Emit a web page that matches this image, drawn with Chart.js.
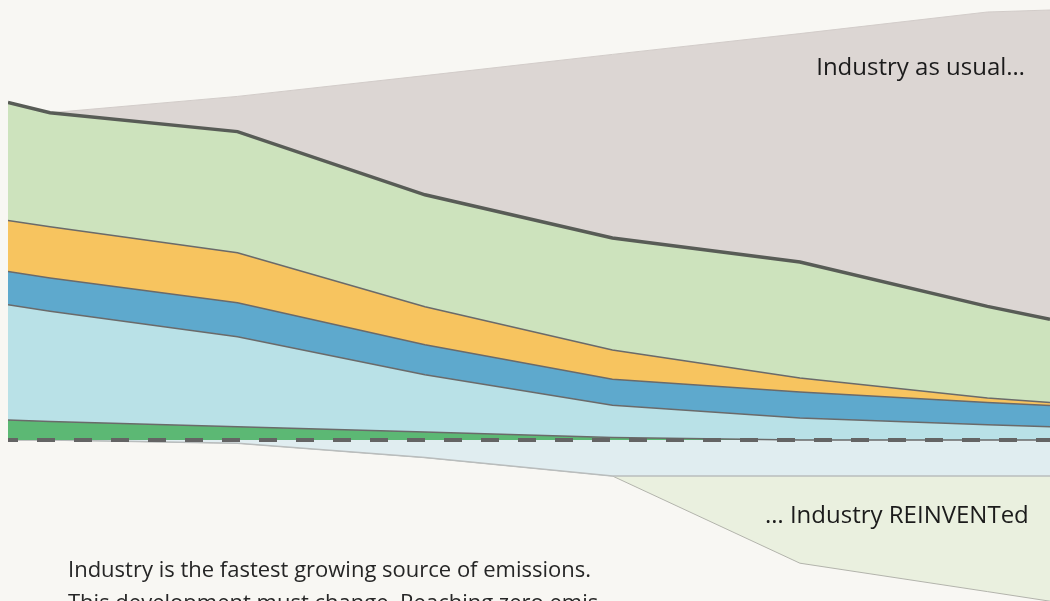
<!DOCTYPE html>
<html>
<head>
<meta charset="utf-8">
<script src="https://cdn.jsdelivr.net/npm/chart.js@4"></script>
<style>
  html, body { margin: 0; padding: 0; background: #f8f7f3; }
  #wrap { position: relative; width: 1050px; height: 601px; overflow: hidden; }
  canvas { position: absolute; left: 0; top: 0; }
  .label { position: absolute; font-family: "Open Sans", "Noto Sans", sans-serif; color: #1b1b1b; white-space: nowrap; }
  #usual { right: 25px; top: 49px; font-size: 24px; }
  #reinvented { left: 765px; top: 497px; font-size: 24px; }
  #note { left: 68px; top: 552px; font-size: 22px; line-height: 33px; color: #262626; }
</style>
</head>
<body>
<div id="wrap">
  <canvas id="chart" width="1050" height="601"></canvas>
  <div class="label" id="usual">Industry as usual…</div>
  <div class="label" id="reinvented">… Industry REINVENTed</div>
  <div class="label" id="note">Industry is the fastest growing source of emissions.<br>This development must change. Reaching zero emis-</div>
</div>
<script>
// === Данные (Gt CO2, оценка по картинке) ===
const years = [2018.88, 2020, 2025, 2030, 2035, 2040, 2045, 2046.67];

// слои над нулём, снизу вверх
const greenBase = [0.50, 0.46, 0.33, 0.20, 0.06, 0, 0, 0];
const lightBlue = [2.88, 2.76, 2.25, 1.43, 0.81, 0.55, 0.38, 0.33];
const blue      = [0.83, 0.83, 0.85, 0.75, 0.65, 0.65, 0.56, 0.53];
const orange    = [1.28, 1.28, 1.25, 0.95, 0.73, 0.35, 0.11, 0.08];
const lightGreen = [2.95, 2.85, 3.03, 2.80, 2.80, 2.90, 2.29, 2.08];
const asUsual   = [0, 0, 0.88, 2.98, 4.59, 5.71, 7.36, 7.73];

// слои под нулём
const belowBand  = [0, 0, -0.08, -0.44, -0.90, -0.90, -0.90, -0.90];
const reinvented = [0, 0, 0, 0, 0, -2.18, -2.89, -3.13];

const baseline = years.map(() => 0);

const pts = arr => arr.map((v, i) => ({ x: years[i], y: v }));

function layer(data, fill, bg, border, width, stack) {
  return {
    data: pts(data),
    fill,
    backgroundColor: bg,
    borderColor: border,
    borderWidth: width,
    stack,
    pointRadius: 0,
    tension: 0
  };
}

const datasets = [
  {
    data: pts(baseline),
    fill: false,
    borderColor: '#646464',
    borderWidth: 4,
    borderDash: [18, 19],
    borderDashOffset: 8,
    borderCapStyle: 'butt',
    stack: 'base',
    pointRadius: 0
  },
  layer(greenBase, 'origin', '#5cb874', '#6a6a6a', 1.5, 'up'),
  layer(lightBlue, '-1', '#b9e1e7', '#6a6a6a', 1.5, 'up'),
  layer(blue, '-1', '#5ea9cd', '#6a6a6a', 1.5, 'up'),
  layer(orange, '-1', '#f7c45f', '#6a6a6a', 1.5, 'up'),
  layer(lightGreen, '-1', '#cde3bd', '#585c56', 3.5, 'up'),
  layer(asUsual, '-1', '#dcd6d3', '#d2ccc9', 1, 'up'),
  layer(belowBand, 'origin', '#e0edf0', '#b9bdbd', 1.5, 'down'),
  layer(reinvented, '-1', '#eaf0df', '#b2b3ab', 1, 'down')
];

new Chart(document.getElementById('chart'), {
  type: 'line',
  data: { datasets },
  options: {
    responsive: false,
    animation: false,
    layout: { padding: { left: 8, right: 0, top: 0, bottom: 0 } },
    plugins: { legend: { display: false }, tooltip: { enabled: false } },
    scales: {
      x: { type: 'linear', min: 2018.88, max: 2046.67, display: false },
      y: { stacked: true, min: -4.025, max: 11, display: false }
    }
  }
});
</script>
</body>
</html>
